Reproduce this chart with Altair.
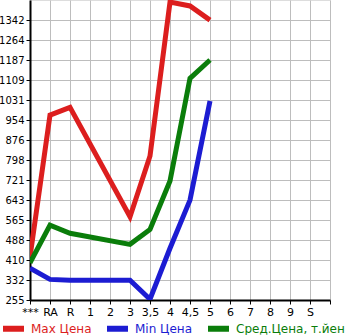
import altair as alt
import pandas as pd

categories = ["***", "RA", "R", "1", "2", "3", "3,5", "4", "4,5", "5", "6", "7", "8", "9", "S"]
max_vals = [422, 973, 1003, None, None, 578, 814, 1412, 1397, 1342, None, None, None, None, None]
min_vals = [379, 335, 332, 332, 332, 332, 258, 456, 643, 1028, None, None, None, None, None]
avg_vals = [399, 546, 514, None, None, 471, 529, 717, 1116, 1187, None, None, None, None, None]
y_ticks = [255, 332, 410, 488, 565, 643, 721, 798, 876, 954, 1031, 1109, 1187, 1264, 1342]
series_names = ["Max Цена", "Min Цена", "Сред.Цена, т.йен"]
series_colors = ["#dc1e1e", "#1c1cd2", "#0a7d0a"]

rows = []
for name, vals in zip(series_names, [max_vals, min_vals, avg_vals]):
    for i, v in enumerate(vals):
        if v is not None:
            rows.append({"idx": i, "cat": categories[i], "value": v, "series": name})
df = pd.DataFrame(rows)

label_expr = "[" + ",".join("'" + c + "'" for c in categories) + ",''][datum.value]"
legend_color_expr = "scale('color', datum.value)"

chart = alt.Chart(df).mark_line(strokeWidth=5, clip=True).encode(
    x=alt.X("idx:Q",
            scale=alt.Scale(domain=[0, 15], nice=False, zero=False),
            axis=alt.Axis(values=list(range(16)), labelExpr=label_expr, title=None,
                          grid=True, gridColor="#bdbdbd", gridWidth=1,
                          domainColor="#000000", domainWidth=2,
                          tickColor="#000000", tickSize=4, tickWidth=1,
                          labelFont="DejaVu Sans", labelFontSize=11, labelColor="#000000",
                          labelPadding=2, labelFlush=False)),
    y=alt.Y("value:Q",
            scale=alt.Scale(domain=[255, 1420], nice=False, zero=False),
            axis=alt.Axis(values=y_ticks, format="d", title=None,
                          grid=True, gridColor="#bdbdbd", gridWidth=1,
                          domainColor="#000000", domainWidth=2,
                          tickColor="#000000", tickSize=4, tickWidth=1,
                          labelFont="DejaVu Sans", labelFontSize=10, labelColor="#000000",
                          labelPadding=2, labelFlush=False)),
    color=alt.Color("series:N",
                    scale=alt.Scale(domain=series_names, range=series_colors),
                    sort=series_names,
                    legend=alt.Legend(title=None, orient="none", legendX=-30, legendY=315,
                                      direction="horizontal", symbolType="stroke",
                                      symbolStrokeWidth=6, symbolSize=440,
                                      labelFont="DejaVu Sans", labelFontSize=12,
                                      labelOffset=4, columnPadding=3, padding=0,
                                      labelColor=alt.ExprRef(legend_color_expr))),
    detail="series:N",
).properties(
    width=300, height=300,
    autosize=alt.AutoSizeParams(type="none"),
    padding={"left": 30, "top": 0, "right": 15, "bottom": 35},
).configure_view(
    fill="#f7f7f7", stroke="#bdbdbd", strokeWidth=1
).configure(background="#ffffff")

chart.save("out.html", embed_options={"renderer": "svg", "actions": False})
